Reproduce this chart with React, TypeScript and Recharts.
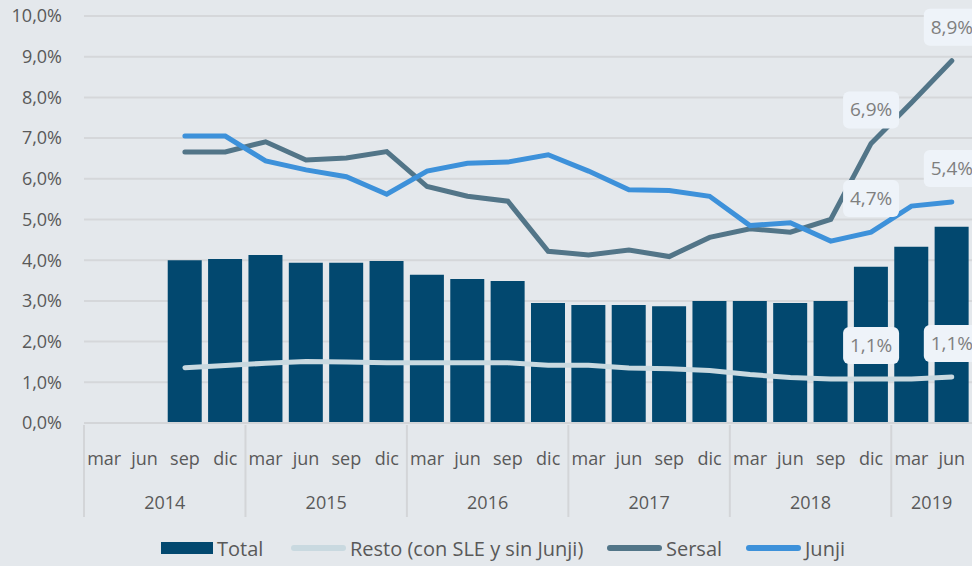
import React from 'react';
import {
  ComposedChart,
  Bar,
  Line,
  XAxis,
  YAxis,
  CartesianGrid,
  Legend,
  LabelList,
} from 'recharts';

const meses = ['mar', 'jun', 'sep', 'dic', 'mar', 'jun', 'sep', 'dic', 'mar', 'jun', 'sep', 'dic', 'mar', 'jun', 'sep', 'dic', 'mar', 'jun', 'sep', 'dic', 'mar', 'jun'];
const anios = ['2014', '2014', '2014', '2014', '2015', '2015', '2015', '2015', '2016', '2016', '2016', '2016', '2017', '2017', '2017', '2017', '2018', '2018', '2018', '2018', '2019', '2019'];

const total = [null, null, 4.0, 4.03, 4.13, 3.94, 3.94, 3.98, 3.64, 3.54, 3.49, 2.95, 2.9, 2.9, 2.87, 3.0, 3.0, 2.95, 3.0, 3.84, 4.33, 4.82];
const resto = [null, null, 1.36, 1.41, 1.47, 1.51, 1.5, 1.48, 1.48, 1.48, 1.48, 1.42, 1.42, 1.35, 1.33, 1.29, 1.19, 1.12, 1.08, 1.08, 1.08, 1.13];
const sersal = [null, null, 6.66, 6.66, 6.91, 6.46, 6.51, 6.67, 5.81, 5.57, 5.45, 4.22, 4.13, 4.25, 4.09, 4.56, 4.77, 4.69, 5.0, 6.87, 7.87, 8.9];
const junji = [null, null, 7.05, 7.05, 6.44, 6.22, 6.05, 5.62, 6.19, 6.38, 6.41, 6.59, 6.19, 5.73, 5.71, 5.57, 4.85, 4.92, 4.47, 4.69, 5.33, 5.43];

// puntos con etiqueta (dic 2018 y jun 2019)
const labeled = [19, 21];

const yTicks = [0, 1, 2, 3, 4, 5, 6, 7, 8, 9, 10];

const data = meses.map((m, i) => ({
  mes: m,
  anio: anios[i],
  total: total[i],
  resto: resto[i],
  sersal: sersal[i],
  junji: junji[i],
}));

const W = 972;
const H = 566;
const LEFT = 84;
const BAND = (W - LEFT) / meses.length;

const TEXT = '#595959';
const FONT = '"Open Sans", sans-serif';

const fmt = (v: number) => v.toFixed(1).replace('.', ',') + '%';

const XTick = (props: any) => {
  const { x, y, payload } = props;
  const i = payload.index;
  const year = anios[i];
  const first = anios.indexOf(year);
  const last = anios.lastIndexOf(year);
  const center = (first + last) / 2;
  return (
    <g>
      {i === first && (
        <line x1={x - BAND / 2} x2={x - BAND / 2} y1={y} y2={y + 92} stroke='#D3D5D8' strokeWidth={2} />
      )}
      <text x={x} y={y + 40} textAnchor='middle' fill={TEXT} fontSize={18} fontFamily={FONT}>
        {meses[i]}
      </text>
      {i === Math.floor(center) && (
        <text x={x + (center - i) * BAND} y={y + 84} textAnchor='middle' fill={TEXT} fontSize={18} fontFamily={FONT}>
          {year}
        </text>
      )}
    </g>
  );
};

const BoxLabel = (props: any) => {
  const { x, y, value, index } = props;
  if (!labeled.includes(index) || value == null) return null;
  const cy = y - 34;
  return (
    <g>
      <rect x={x - 28} y={cy - 18} width={56} height={37} rx={6} fill='#EEF3F9' />
      <text x={x} y={cy + 7} textAnchor='middle' fill='#7F7F7F' fontSize={19} fontFamily={FONT}>
        {fmt(value)}
      </text>
    </g>
  );
};

const legendItems = [
  { name: 'Total', color: '#02486F', type: 'rect', left: 161 },
  { name: 'Resto (con SLE y sin Junji)', color: '#C9D9E0', type: 'line', left: 291 },
  { name: 'Sersal', color: '#527588', type: 'line', left: 607 },
  { name: 'Junji', color: '#3D91DA', type: 'line', left: 746 },
];

const LegendContent = () => (
  <div style={{ position: 'relative', height: 36, fontFamily: FONT, fontSize: 20, color: TEXT }}>
    {legendItems.map((it) => (
      <div
        key={it.name}
        style={{ position: 'absolute', left: it.left, top: 0, height: 36, display: 'flex', alignItems: 'center' }}
      >
        {it.type === 'rect' ? (
          <div style={{ width: 52, height: 12, background: it.color }} />
        ) : (
          <div style={{ width: 55, height: 6, borderRadius: 3, background: it.color }} />
        )}
        <span style={{ marginLeft: 4, whiteSpace: 'nowrap' }}>{it.name}</span>
      </div>
    ))}
  </div>
);

export default function App() {
  return (
    <div style={{ width: W, height: H, background: '#E4E8EC' }}>
      <style>{'body{margin:0}'}</style>
      <ComposedChart width={W} height={H} data={data} margin={{ top: 16, right: 0, bottom: 0, left: 0 }}>
        <CartesianGrid vertical={false} stroke='#D5D7DA' strokeWidth={2} />
        <XAxis
          dataKey='mes'
          interval={0}
          tickLine={false}
          axisLine={{ stroke: '#D3D5D8', strokeWidth: 2 }}
          tickSize={0}
          height={107}
          tick={<XTick />}
        />
        <YAxis
          domain={[0, 10]}
          ticks={yTicks}
          width={LEFT}
          axisLine={false}
          tickLine={false}
          tickSize={0}
          tickMargin={22}
          tickFormatter={fmt}
          tick={{ fill: TEXT, fontSize: 18, fontFamily: FONT }}
        />
        <Legend verticalAlign='bottom' content={<LegendContent />} wrapperStyle={{ left: 0, width: W, height: 36 }} />
        <Bar dataKey='total' name='Total' fill='#02486F' barSize={34} isAnimationActive={false} />
        <Line dataKey='resto' name='Resto (con SLE y sin Junji)' stroke='#C9D9E0' strokeWidth={5} dot={false} strokeLinecap='round' isAnimationActive={false}>
          <LabelList dataKey='resto' content={<BoxLabel />} />
        </Line>
        <Line dataKey='sersal' name='Sersal' stroke='#527588' strokeWidth={5} dot={false} strokeLinecap='round' isAnimationActive={false}>
          <LabelList dataKey='sersal' content={<BoxLabel />} />
        </Line>
        <Line dataKey='junji' name='Junji' stroke='#3D91DA' strokeWidth={5} dot={false} strokeLinecap='round' isAnimationActive={false}>
          <LabelList dataKey='junji' content={<BoxLabel />} />
        </Line>
      </ComposedChart>
    </div>
  );
}
